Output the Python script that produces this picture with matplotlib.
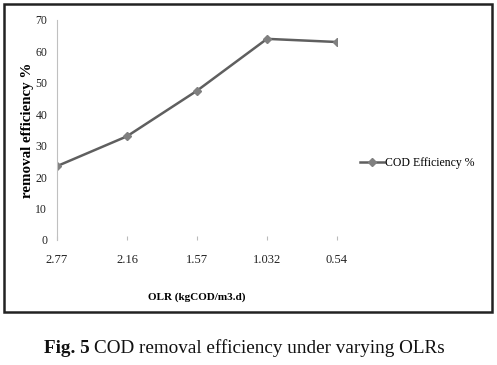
import matplotlib
matplotlib.use("Agg")
import matplotlib.pyplot as plt
from matplotlib.patches import Rectangle

olr = ['2.77', '2.16', '1.57', '1.032', '0.54']
cod_eff = [23.5, 33, 47.5, 64, 63]

plt.rcParams['font.family'] = ['Liberation Serif', 'DejaVu Serif']

fig = plt.figure(figsize=(4.97, 3.65), dpi=100)

# chart border
fig.patches.append(Rectangle((4 / 497, 1 - 312 / 365), 488 / 497, 308 / 365,
                             transform=fig.transFigure, fill=False,
                             edgecolor='#222222', linewidth=1.8))

ax = fig.add_axes([57 / 497, 125 / 365, 280 / 497, 220 / 365])
x = list(range(len(olr)))
ax.plot(x, cod_eff, color='#5f5f5f', linewidth=1.8, marker='D', markersize=4.5,
        markerfacecolor='#808080', markeredgecolor='#808080', label='COD Efficiency %')

ax.set_xlim(0, len(olr) - 1)
ax.set_ylim(0, 70)
ax.set_yticks(range(0, 71, 10))
ax.set_xticks(x)
ax.set_xticklabels(olr, fontsize=9, color='#222222')
ax.tick_params(axis='y', length=0, labelsize=8.5, labelcolor='#222222', pad=7)
ax.tick_params(axis='x', length=3, direction='in', color='#bbbbbb', pad=10)
for s in ['top', 'right', 'bottom']:
    ax.spines[s].set_visible(False)
ax.spines['left'].set_color('#c0c0c0')
ax.spines['left'].set_linewidth(0.8)

ax.set_ylabel('removal efficiency %', fontsize=10.8, fontweight='bold', labelpad=1)
fig.text(197 / 497, 1 - 297 / 365, 'OLR (kgCOD/m3.d)', fontsize=8, fontweight='bold',
         ha='center', va='center')

ax.legend(loc='center left', bbox_to_anchor=(360 / 497, 1 - 163 / 365),
          bbox_transform=fig.transFigure, frameon=False, fontsize=8.5,
          handlelength=2.0, handletextpad=0.1, borderpad=0, borderaxespad=0)

# caption: bold "Fig. 5" followed by normal text
cap_y = 1 - 353 / 365
t1 = fig.text(44 / 497, cap_y, 'Fig. 5', fontsize=13.8, fontweight='bold',
              ha='left', va='baseline', color='#111111')
r = fig.canvas.get_renderer()
w = t1.get_window_extent(r).width
fig.text(44 / 497 + (w + 4) / 497, cap_y, 'COD removal efficiency under varying OLRs',
         fontsize=13.8, ha='left', va='baseline', color='#111111')

fig.savefig('out.png', dpi=100)
